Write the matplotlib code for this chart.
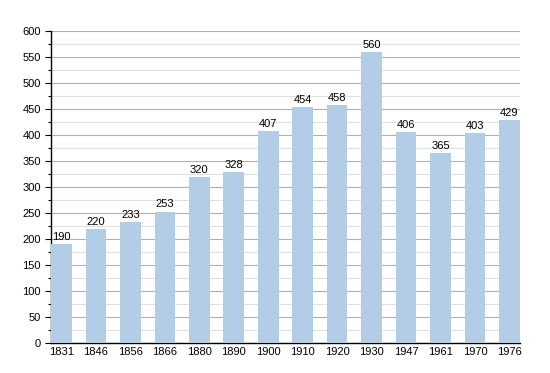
import matplotlib
matplotlib.use('Agg')
import matplotlib.pyplot as plt
from matplotlib.ticker import MultipleLocator

years = ['1831', '1846', '1856', '1866', '1880', '1890', '1900',
         '1910', '1920', '1930', '1947', '1961', '1970', '1976']
population = [190, 220, 233, 253, 320, 328, 407, 454, 458, 560, 406, 365, 403, 429]

plt.rcParams['font.family'] = ['Liberation Sans', 'DejaVu Sans']

fig = plt.figure(figsize=(5.5, 3.73), dpi=100)
ax = fig.add_axes([0.093, 0.080, 0.852, 0.837])

xs = range(len(years))
ax.bar(xs, population, width=0.6, color='#b3cde6', zorder=3)

for x, v in zip(xs, population):
    ax.text(x, v + 4, str(v), ha='center', va='bottom', fontsize=8, zorder=4)

ax.set_xlim(-0.3, len(years) - 0.7)
ax.set_ylim(0, 600)
ax.set_xticks(list(xs))
ax.set_xticklabels(years, fontsize=8)
ax.yaxis.set_major_locator(MultipleLocator(50))
ax.yaxis.set_minor_locator(MultipleLocator(25))
ax.tick_params(axis='y', labelsize=8, length=4, width=0.8)
ax.tick_params(axis='y', which='minor', length=2.5, width=0.8)
ax.tick_params(axis='x', length=0, pad=3)

ax.grid(axis='y', which='major', color='#b0b0b0', linewidth=0.8, zorder=1)
ax.grid(axis='y', which='minor', color='#e0e0e0', linewidth=0.8, zorder=1)

for side in ['top', 'right']:
    ax.spines[side].set_visible(False)
ax.spines['left'].set_linewidth(1.0)
ax.spines['bottom'].set_linewidth(1.0)

fig.savefig('out.png', dpi=100)
